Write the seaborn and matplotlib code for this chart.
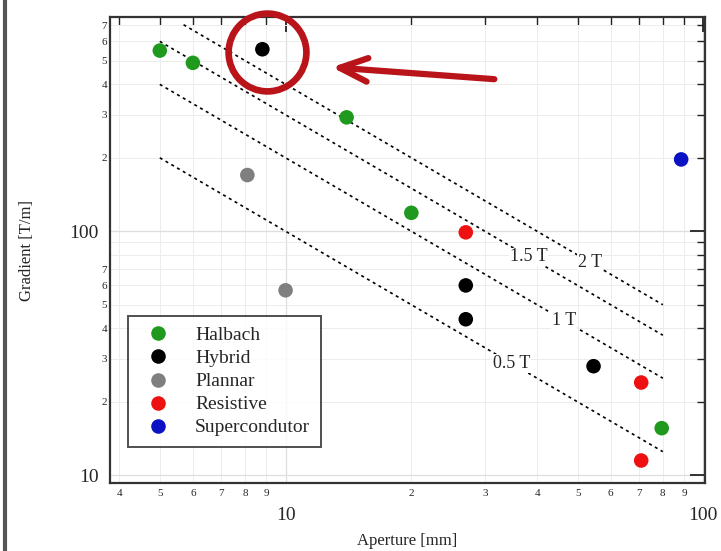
import numpy as np
import pandas as pd
import matplotlib
matplotlib.use("Agg")
import matplotlib.pyplot as plt
import matplotlib.ticker as mticker
from matplotlib.lines import Line2D
import seaborn as sns

# ---------------------------------------------------------------------------
# Data
# ---------------------------------------------------------------------------
halbach_ap = [5.0, 6.0, 14.0, 20.0, 79.5]
halbach_g = [550, 490, 293, 119, 15.6]

hybrid_ap = [8.8, 27.0, 27.0, 54.6]
hybrid_g = [557, 60, 43.6, 28]

plannar_ap = [8.1, 10.0]
plannar_g = [170, 57.3]

resistive_ap = [27.0, 71.0, 71.0]
resistive_g = [99, 24, 11.5]

super_ap = [88.5]
super_g = [197]

families = ["Halbach", "Hybrid", "Plannar", "Resistive", "Supercondutor"]
colors = ["#1f9a1f", "#000000", "#7f7f7f", "#ee1111", "#0a12c4"]

# constant field lines (aperture start/end, gradient start/end)
field_labels = ["0.5 T", "1 T", "1.5 T", "2 T"]
field_ap = [[5, 80], [5, 80], [5, 80], [5.7, 80]]
field_g = [[200, 12.5], [400, 25], [600, 37.5], [702, 50]]
label_ap = [34.8, 46.4, 38.2, 53.5]
label_g = [28.7, 43.1, 78.5, 74.8]

# highlight: circle round the hybrid point and arrow
circle_center = (9.03, 545)
arrow_tail = (31.6, 420)
arrow_head = (12.9, 470)

df = pd.DataFrame({
    "aperture": halbach_ap + hybrid_ap + plannar_ap + resistive_ap + super_ap,
    "gradient": halbach_g + hybrid_g + plannar_g + resistive_g + super_g,
    "type": (["Halbach"] * len(halbach_ap) + ["Hybrid"] * len(hybrid_ap)
             + ["Plannar"] * len(plannar_ap) + ["Resistive"] * len(resistive_ap)
             + ["Supercondutor"] * len(super_ap)),
})

# ---------------------------------------------------------------------------
# Plot
# ---------------------------------------------------------------------------
sns.set_theme(style="white")
plt.rcParams["font.family"] = ["Liberation Serif", "DejaVu Serif"]

fig = plt.figure(figsize=(7.21, 5.51), dpi=100)
ax = fig.add_axes([0.1526, 0.1234, 0.8254, 0.8457])
ax.set_xscale("log")
ax.set_yscale("log")

for lab, xs, ys in zip(field_labels, field_ap, field_g):
    ax.plot(xs, ys, color="black", lw=1.2, ls=(0, (1.8, 2.2)), zorder=2)

for lab, lx, ly in zip(field_labels, label_ap, label_g):
    ax.text(lx, ly, lab, fontsize=13, ha="center", va="center", zorder=3,
            bbox=dict(fc="white", ec="none", pad=0.5))

sns.scatterplot(data=df, x="aperture", y="gradient", hue="type",
                hue_order=families, palette=colors, s=110, edgecolor="none",
                ax=ax, zorder=4)

# circle round the highlighted hybrid magnet
ax.plot([circle_center[0]], [circle_center[1]], marker="o", ms=56, mfc="none",
        mec="#b8141a", mew=4.8, zorder=5, clip_on=False)
ax.annotate("", xy=arrow_head, xytext=arrow_tail,
            arrowprops=dict(arrowstyle="->,head_length=2.0,head_width=0.85",
                            mutation_scale=10, color="#b8141a", lw=4.5,
                            shrinkA=0, shrinkB=0),
            zorder=5)

ax.set_xlim(3.8, 101)
ax.set_ylim(9.3, 755)

# ticks
ax.xaxis.set_major_locator(mticker.LogLocator(base=10, numticks=10))
ax.yaxis.set_major_locator(mticker.LogLocator(base=10, numticks=10))
ax.xaxis.set_minor_locator(mticker.LogLocator(base=10, subs=np.arange(2, 10), numticks=20))
ax.yaxis.set_minor_locator(mticker.LogLocator(base=10, subs=np.arange(2, 10), numticks=20))
ax.xaxis.set_major_formatter(mticker.FuncFormatter(lambda v, p: f"{v:g}"))
ax.yaxis.set_major_formatter(mticker.FuncFormatter(lambda v, p: f"{v:g}"))


def lead_digit(v, keep):
    d = int(round(v / 10 ** np.floor(np.log10(v))))
    return str(d) if d in keep else ""


ax.xaxis.set_minor_formatter(mticker.FuncFormatter(lambda v, p: lead_digit(v, range(2, 10))))
ax.yaxis.set_minor_formatter(mticker.FuncFormatter(lambda v, p: lead_digit(v, range(2, 8))))

ax.tick_params(which="both", direction="in", top=True, right=True, color="#222222")
ax.tick_params(which="major", length=11, width=1.3, labelsize=14)
ax.tick_params(which="minor", length=6, width=1.0, labelsize=8)
ax.tick_params(axis="x", which="major", pad=17)
ax.tick_params(axis="x", which="minor", pad=4)
ax.tick_params(axis="y", which="major", pad=8)
ax.tick_params(axis="y", which="minor", pad=2)

ax.grid(which="major", color="#dedede", lw=0.9)
ax.grid(which="minor", color="#ececec", lw=0.7)
ax.set_axisbelow(True)
for sp in ax.spines.values():
    sp.set_color("#333333")
    sp.set_linewidth(1.6)

ax.set_xlabel("Aperture [mm]", fontsize=12, labelpad=7)
ax.set_ylabel("Gradient [T/m]", fontsize=12, labelpad=25)

leg = ax.legend(loc="lower left", bbox_to_anchor=(0.03, 0.077), fontsize=14,
                frameon=True, fancybox=False, labelspacing=0.28,
                handletextpad=0.9, borderpad=0.55, borderaxespad=0,
                markerscale=1.0)
leg.get_frame().set_edgecolor("#222222")
leg.get_frame().set_linewidth(1.4)

# dark border at the left edge of the picture
fig.add_artist(Line2D([0.007, 0.007], [0, 1], color="#555555", lw=3,
                      transform=fig.transFigure))

fig.savefig("out.png", dpi=100)
